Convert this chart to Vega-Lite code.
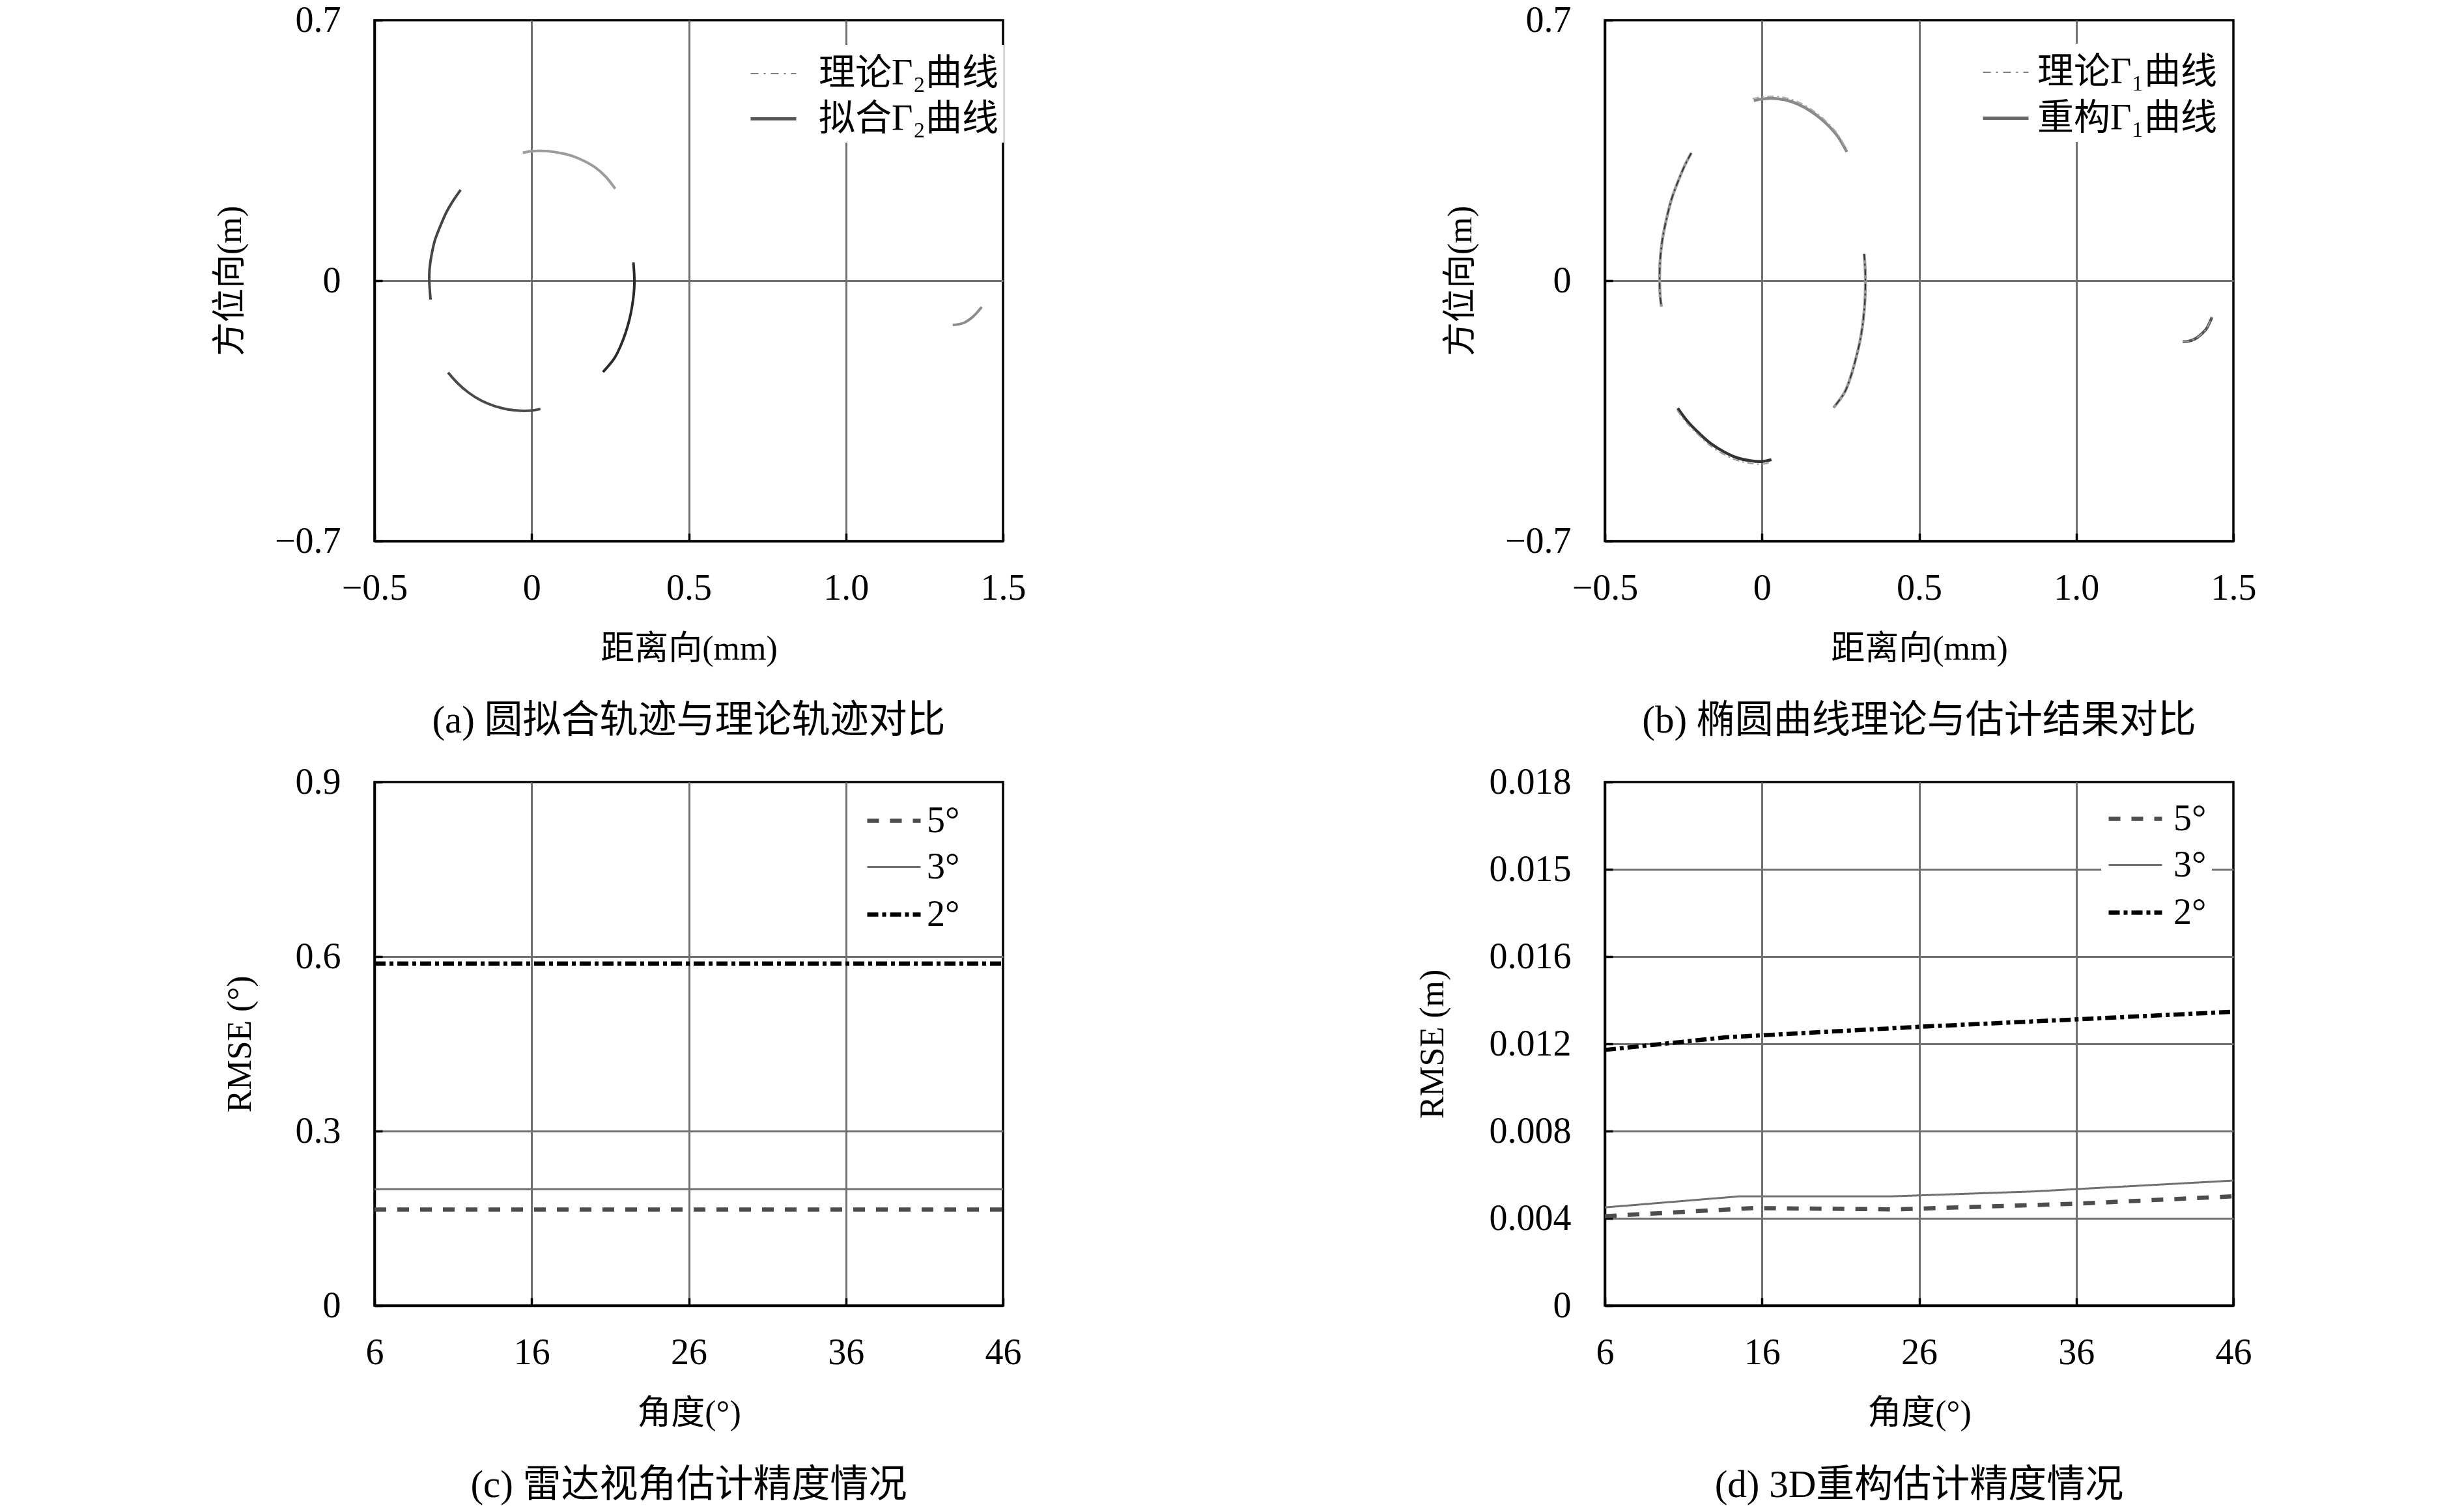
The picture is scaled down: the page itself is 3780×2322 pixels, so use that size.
{
  "$schema": "https://vega.github.io/schema/vega-lite/v6.json",
  "autosize": "none",
  "padding": {"left": 575, "top": 31, "right": 3205, "bottom": 2291},
  "background": "white",
  "bounds": "flush",
  "columns": 2,
  "spacing": {"row": 370, "column": 924},
  "resolve": {
    "scale": {"color": "independent", "strokeDash": "independent", "strokeWidth": "independent", "stroke": "independent", "x": "independent", "y": "independent"},
    "legend": {"color": "independent", "strokeDash": "independent", "strokeWidth": "independent", "stroke": "independent"}
  },
  "concat": [
    {
      "width": 965, "height": 800,
      "title": {"text": "(a) 圆拟合轨迹与理论轨迹对比", "orient": "bottom", "frame": "group", "anchor": "middle", "offset": 56},
      "encoding": {
        "x": {"field": "x", "type": "quantitative", "scale": {"domain": [-0.5, 1.5], "nice": false, "zero": false},
          "axis": {"values": [-0.5, 0, 0.5, 1, 1.5], "title": "距离向(mm)", "labelExpr": "datum.value == 0 ? '0' : format(datum.value, '.1f')",
            "gridOpacity": {"condition": {"test": "datum.value <= -0.49 || datum.value >= 1.49", "value": 0}, "value": 1}}},
        "y": {"field": "y", "type": "quantitative", "scale": {"domain": [-0.7, 0.7], "nice": false, "zero": false},
          "axis": {"values": [-0.7, 0, 0.7], "title": "方位向(m)", "titlePadding": 41, "labelExpr": "datum.value == 0 ? '0' : format(datum.value, '.1f')",
            "gridOpacity": {"condition": {"test": "abs(datum.value) >= 0.69", "value": 0}, "value": 1}}}
      },
      "layer": [
        {
          "data": {"values": [{"series": "理论Γ₂曲线", "x": null, "y": null}, {"series": "拟合Γ₂曲线", "x": null, "y": null}]},
          "mark": {"type": "line"},
          "encoding": {
            "color": {"field": "series", "type": "nominal", "scale": {"domain": ["理论Γ₂曲线", "拟合Γ₂曲线"], "range": ["#808080", "#555555"]},
              "legend": {"title": null, "orient": "none", "legendX": 567, "legendY": 38, "symbolSize": 4900, "labelOffset": 32, "rowPadding": 4, "symbolType": "stroke", "fillColor": "white", "padding": 8}},
            "strokeDash": {"field": "series", "type": "nominal", "scale": {"domain": ["理论Γ₂曲线", "拟合Γ₂曲线"], "range": [[12, 8, 3, 8], [1, 0]]},
              "legend": {"title": null, "orient": "none", "legendX": 567, "legendY": 38, "symbolSize": 4900, "labelOffset": 32, "rowPadding": 4, "symbolType": "stroke", "fillColor": "white", "padding": 8}},
            "strokeWidth": {"field": "series", "type": "nominal", "scale": {"type": "ordinal", "domain": ["理论Γ₂曲线", "拟合Γ₂曲线"], "range": [2, 5]},
              "legend": {"title": null, "orient": "none", "legendX": 567, "legendY": 38, "symbolSize": 4900, "labelOffset": 32, "rowPadding": 4, "symbolType": "stroke", "fillColor": "white", "padding": 8}}
          }
        },
        {
          "data": {"values": [
            {"arc": "top", "x": -0.028, "y": 0.344}, {"arc": "top", "x": 0, "y": 0.348}, {"arc": "top", "x": 0.028, "y": 0.3485}, {"arc": "top", "x": 0.062, "y": 0.347}, {"arc": "top", "x": 0.097, "y": 0.342}, {"arc": "top", "x": 0.131, "y": 0.3345}, {"arc": "top", "x": 0.166, "y": 0.322}, {"arc": "top", "x": 0.201, "y": 0.305}, {"arc": "top", "x": 0.235, "y": 0.28}, {"arc": "top", "x": 0.266, "y": 0.247},
            {"arc": "small", "x": 1.34, "y": -0.119}, {"arc": "small", "x": 1.358, "y": -0.1175}, {"arc": "small", "x": 1.379, "y": -0.112}, {"arc": "small", "x": 1.4, "y": -0.1}, {"arc": "small", "x": 1.417, "y": -0.086}, {"arc": "small", "x": 1.432, "y": -0.071},
            {"arc": "left", "x": -0.226, "y": 0.244}, {"arc": "left", "x": -0.249, "y": 0.216}, {"arc": "left", "x": -0.27, "y": 0.186}, {"arc": "left", "x": -0.29, "y": 0.148}, {"arc": "left", "x": -0.308, "y": 0.108}, {"arc": "left", "x": -0.3195, "y": 0.064}, {"arc": "left", "x": -0.325, "y": 0.029}, {"arc": "left", "x": -0.3257, "y": 0}, {"arc": "left", "x": -0.3237, "y": -0.029}, {"arc": "left", "x": -0.3216, "y": -0.051},
            {"arc": "right", "x": 0.3237, "y": 0.049}, {"arc": "right", "x": 0.3264, "y": 0.0175}, {"arc": "right", "x": 0.327, "y": -0.006}, {"arc": "right", "x": 0.325, "y": -0.035}, {"arc": "right", "x": 0.3195, "y": -0.07}, {"arc": "right", "x": 0.311, "y": -0.105}, {"arc": "right", "x": 0.299, "y": -0.14}, {"arc": "right", "x": 0.2835, "y": -0.1745}, {"arc": "right", "x": 0.263, "y": -0.209}, {"arc": "right", "x": 0.227, "y": -0.2455},
            {"arc": "bottom", "x": -0.266, "y": -0.247}, {"arc": "bottom", "x": -0.235, "y": -0.276}, {"arc": "bottom", "x": -0.2006, "y": -0.301}, {"arc": "bottom", "x": -0.159, "y": -0.323}, {"arc": "bottom", "x": -0.118, "y": -0.337}, {"arc": "bottom", "x": -0.076, "y": -0.346}, {"arc": "bottom", "x": -0.035, "y": -0.3496}, {"arc": "bottom", "x": 0, "y": -0.349}, {"arc": "bottom", "x": 0.028, "y": -0.345}
          ]},
          "mark": {"type": "line", "interpolate": "catmull-rom", "strokeWidth": 4, "strokeCap": "butt"},
          "encoding": {
            "detail": {"field": "arc", "type": "nominal"},
            "order": {"value": null},
            "stroke": {"field": "arc", "type": "nominal", "scale": {"domain": ["top", "small", "left", "right", "bottom"], "range": ["#9c9c9c", "#8c8c8c", "#454545", "#2b2b2b", "#4a4a4a"]}, "legend": null}
          }
        }
      ]
    },
    {
      "width": 965, "height": 800,
      "title": {"text": "(b) 椭圆曲线理论与估计结果对比", "orient": "bottom", "frame": "group", "anchor": "middle", "offset": 56},
      "encoding": {
        "x": {"field": "x", "type": "quantitative", "scale": {"domain": [-0.5, 1.5], "nice": false, "zero": false},
          "axis": {"values": [-0.5, 0, 0.5, 1, 1.5], "title": "距离向(mm)", "labelExpr": "datum.value == 0 ? '0' : format(datum.value, '.1f')",
            "gridOpacity": {"condition": {"test": "datum.value <= -0.49 || datum.value >= 1.49", "value": 0}, "value": 1}}},
        "y": {"field": "y", "type": "quantitative", "scale": {"domain": [-0.7, 0.7], "nice": false, "zero": false},
          "axis": {"values": [-0.7, 0, 0.7], "title": "方位向(m)", "titlePadding": 41, "labelExpr": "datum.value == 0 ? '0' : format(datum.value, '.1f')",
            "gridOpacity": {"condition": {"test": "abs(datum.value) >= 0.69", "value": 0}, "value": 1}}}
      },
      "layer": [
        {
          "data": {"values": [{"series": "理论Γ₁曲线", "x": null, "y": null}, {"series": "重构Γ₁曲线", "x": null, "y": null}]},
          "mark": {"type": "line"},
          "encoding": {
            "color": {"field": "series", "type": "nominal", "scale": {"domain": ["理论Γ₁曲线", "重构Γ₁曲线"], "range": ["#808080", "#666666"]},
              "legend": {"title": null, "orient": "none", "legendX": 570, "legendY": 36, "symbolSize": 4900, "labelOffset": 11, "rowPadding": 5, "symbolType": "stroke", "fillColor": "white", "padding": 8}},
            "strokeDash": {"field": "series", "type": "nominal", "scale": {"domain": ["理论Γ₁曲线", "重构Γ₁曲线"], "range": [[12, 8, 3, 8], [1, 0]]},
              "legend": {"title": null, "orient": "none", "legendX": 570, "legendY": 36, "symbolSize": 4900, "labelOffset": 11, "rowPadding": 5, "symbolType": "stroke", "fillColor": "white", "padding": 8}},
            "strokeWidth": {"field": "series", "type": "nominal", "scale": {"type": "ordinal", "domain": ["理论Γ₁曲线", "重构Γ₁曲线"], "range": [2, 5]},
              "legend": {"title": null, "orient": "none", "legendX": 570, "legendY": 36, "symbolSize": 4900, "labelOffset": 11, "rowPadding": 5, "symbolType": "stroke", "fillColor": "white", "padding": 8}}
          }
        },
        {
          "data": {"values": [
            {"arc": "r_top", "x": -0.026, "y": 0.484}, {"arc": "r_top", "x": 0, "y": 0.488}, {"arc": "r_top", "x": 0.031, "y": 0.49}, {"arc": "r_top", "x": 0.073, "y": 0.486}, {"arc": "r_top", "x": 0.114, "y": 0.4745}, {"arc": "r_top", "x": 0.156, "y": 0.455}, {"arc": "r_top", "x": 0.197, "y": 0.428}, {"arc": "r_top", "x": 0.239, "y": 0.39}, {"arc": "r_top", "x": 0.27, "y": 0.346},
            {"arc": "r_left", "x": -0.225, "y": 0.343}, {"arc": "r_left", "x": -0.2455, "y": 0.31}, {"arc": "r_left", "x": -0.266, "y": 0.269}, {"arc": "r_left", "x": -0.287, "y": 0.221}, {"arc": "r_left", "x": -0.304, "y": 0.1655}, {"arc": "r_left", "x": -0.317, "y": 0.11}, {"arc": "r_left", "x": -0.324, "y": 0.055}, {"arc": "r_left", "x": -0.3257, "y": 0}, {"arc": "r_left", "x": -0.324, "y": -0.041}, {"arc": "r_left", "x": -0.32, "y": -0.07},
            {"arc": "r_right", "x": 0.325, "y": 0.072}, {"arc": "r_right", "x": 0.3285, "y": 0.028}, {"arc": "r_right", "x": 0.329, "y": -0.014}, {"arc": "r_right", "x": 0.327, "y": -0.062}, {"arc": "r_right", "x": 0.3216, "y": -0.11}, {"arc": "r_right", "x": 0.3126, "y": -0.159}, {"arc": "r_right", "x": 0.2994, "y": -0.207}, {"arc": "r_right", "x": 0.2835, "y": -0.255}, {"arc": "r_right", "x": 0.263, "y": -0.3}, {"arc": "r_right", "x": 0.228, "y": -0.341},
            {"arc": "r_bottom", "x": -0.268, "y": -0.343}, {"arc": "r_bottom", "x": -0.239, "y": -0.376}, {"arc": "r_bottom", "x": -0.204, "y": -0.407}, {"arc": "r_bottom", "x": -0.1625, "y": -0.438}, {"arc": "r_bottom", "x": -0.121, "y": -0.46}, {"arc": "r_bottom", "x": -0.0795, "y": -0.476}, {"arc": "r_bottom", "x": -0.038, "y": -0.484}, {"arc": "r_bottom", "x": 0, "y": -0.486}, {"arc": "r_bottom", "x": 0.03, "y": -0.481},
            {"arc": "r_small", "x": 1.339, "y": -0.164}, {"arc": "r_small", "x": 1.356, "y": -0.163}, {"arc": "r_small", "x": 1.377, "y": -0.157}, {"arc": "r_small", "x": 1.398, "y": -0.144}, {"arc": "r_small", "x": 1.415, "y": -0.128}, {"arc": "r_small", "x": 1.432, "y": -0.098}
          ]},
          "mark": {"type": "line", "interpolate": "catmull-rom", "strokeWidth": 4.5, "strokeCap": "butt"},
          "encoding": {
            "detail": {"field": "arc", "type": "nominal"},
            "order": {"value": null},
            "stroke": {"field": "arc", "type": "nominal", "scale": {"domain": ["r_top", "r_left", "r_right", "r_bottom", "r_small", "t_top", "t_left", "t_right", "t_bottom", "t_small"], "range": ["#8a8a8a", "#9a9a9a", "#9a9a9a", "#333333", "#555555", "#aaaaaa", "#333333", "#333333", "#9a9a9a", "#999999"]}, "legend": null}
          }
        },
        {
          "data": {"values": [
            {"arc": "t_top", "x": -0.03, "y": 0.489}, {"arc": "t_top", "x": 0, "y": 0.494}, {"arc": "t_top", "x": 0.031, "y": 0.4955}, {"arc": "t_top", "x": 0.073, "y": 0.492}, {"arc": "t_top", "x": 0.114, "y": 0.481}, {"arc": "t_top", "x": 0.156, "y": 0.461}, {"arc": "t_top", "x": 0.197, "y": 0.434}, {"arc": "t_top", "x": 0.239, "y": 0.396}, {"arc": "t_top", "x": 0.27, "y": 0.352},
            {"arc": "t_left", "x": -0.225, "y": 0.343}, {"arc": "t_left", "x": -0.2455, "y": 0.31}, {"arc": "t_left", "x": -0.266, "y": 0.269}, {"arc": "t_left", "x": -0.287, "y": 0.221}, {"arc": "t_left", "x": -0.304, "y": 0.1655}, {"arc": "t_left", "x": -0.317, "y": 0.11}, {"arc": "t_left", "x": -0.324, "y": 0.055}, {"arc": "t_left", "x": -0.3257, "y": 0}, {"arc": "t_left", "x": -0.324, "y": -0.041}, {"arc": "t_left", "x": -0.32, "y": -0.07},
            {"arc": "t_right", "x": 0.325, "y": 0.072}, {"arc": "t_right", "x": 0.3285, "y": 0.028}, {"arc": "t_right", "x": 0.329, "y": -0.014}, {"arc": "t_right", "x": 0.327, "y": -0.062}, {"arc": "t_right", "x": 0.3216, "y": -0.11}, {"arc": "t_right", "x": 0.3126, "y": -0.159}, {"arc": "t_right", "x": 0.2994, "y": -0.207}, {"arc": "t_right", "x": 0.2835, "y": -0.255}, {"arc": "t_right", "x": 0.263, "y": -0.3}, {"arc": "t_right", "x": 0.228, "y": -0.341},
            {"arc": "t_bottom", "x": -0.27, "y": -0.348}, {"arc": "t_bottom", "x": -0.24, "y": -0.382}, {"arc": "t_bottom", "x": -0.204, "y": -0.413}, {"arc": "t_bottom", "x": -0.1625, "y": -0.445}, {"arc": "t_bottom", "x": -0.121, "y": -0.467}, {"arc": "t_bottom", "x": -0.0795, "y": -0.483}, {"arc": "t_bottom", "x": -0.038, "y": -0.491}, {"arc": "t_bottom", "x": 0, "y": -0.493}, {"arc": "t_bottom", "x": 0.03, "y": -0.488},
            {"arc": "t_small", "x": 1.339, "y": -0.164}, {"arc": "t_small", "x": 1.356, "y": -0.163}, {"arc": "t_small", "x": 1.377, "y": -0.157}, {"arc": "t_small", "x": 1.398, "y": -0.144}, {"arc": "t_small", "x": 1.415, "y": -0.128}, {"arc": "t_small", "x": 1.432, "y": -0.098}
          ]},
          "mark": {"type": "line", "interpolate": "catmull-rom", "strokeWidth": 2, "strokeDash": [10, 5, 3, 5], "strokeCap": "butt"},
          "encoding": {
            "detail": {"field": "arc", "type": "nominal"},
            "order": {"value": null},
            "stroke": {"field": "arc", "type": "nominal", "legend": null}
          }
        }
      ]
    },
    {
      "width": 965, "height": 804,
      "title": {"text": "(c) 雷达视角估计精度情况", "orient": "bottom", "frame": "group", "anchor": "middle", "offset": 56},
      "data": {"values": [
        {"series": "5°", "angle": 6, "rmse": 0.165}, {"series": "5°", "angle": 16, "rmse": 0.165}, {"series": "5°", "angle": 26, "rmse": 0.165}, {"series": "5°", "angle": 36, "rmse": 0.165}, {"series": "5°", "angle": 46, "rmse": 0.165},
        {"series": "3°", "angle": 6, "rmse": 0.2}, {"series": "3°", "angle": 16, "rmse": 0.2}, {"series": "3°", "angle": 26, "rmse": 0.2}, {"series": "3°", "angle": 36, "rmse": 0.2}, {"series": "3°", "angle": 46, "rmse": 0.2},
        {"series": "2°", "angle": 6, "rmse": 0.588}, {"series": "2°", "angle": 16, "rmse": 0.588}, {"series": "2°", "angle": 26, "rmse": 0.588}, {"series": "2°", "angle": 36, "rmse": 0.588}, {"series": "2°", "angle": 46, "rmse": 0.588}
      ]},
      "mark": {"type": "line", "strokeCap": "butt"},
      "encoding": {
        "x": {"field": "angle", "type": "quantitative", "scale": {"domain": [6, 46], "nice": false, "zero": false},
          "axis": {"values": [6, 16, 26, 36, 46], "title": "角度(°)", "format": "d",
            "gridOpacity": {"condition": {"test": "datum.value <= 6 || datum.value >= 46", "value": 0}, "value": 1}}},
        "y": {"field": "rmse", "type": "quantitative", "scale": {"domain": [0, 0.9], "nice": false, "zero": false},
          "axis": {"values": [0, 0.3, 0.6, 0.9], "title": "RMSE (°)", "titlePadding": 58, "labelExpr": "datum.value == 0 ? '0' : format(datum.value, '.1f')",
            "gridOpacity": {"condition": {"test": "datum.value <= 0.001 || datum.value >= 0.899", "value": 0}, "value": 1}}},
        "color": {"field": "series", "type": "nominal", "scale": {"domain": ["5°", "3°", "2°"], "range": ["#4d4d4d", "#707070", "#000000"]},
          "legend": {"title": null, "orient": "none", "legendX": 745, "legendY": 7, "symbolSize": 6724, "labelOffset": 6, "rowPadding": -14, "symbolType": "stroke", "fillColor": "white", "padding": 8}},
        "strokeDash": {"field": "series", "type": "nominal", "scale": {"domain": ["5°", "3°", "2°"], "range": [[18, 17], [1, 0], [17, 6, 6, 6]]},
          "legend": {"title": null, "orient": "none", "legendX": 745, "legendY": 7, "symbolSize": 6724, "labelOffset": 6, "rowPadding": -14, "symbolType": "stroke", "fillColor": "white", "padding": 8}},
        "strokeWidth": {"field": "series", "type": "nominal", "scale": {"type": "ordinal", "domain": ["5°", "3°", "2°"], "range": [6.5, 3, 6.5]},
          "legend": {"title": null, "orient": "none", "legendX": 745, "legendY": 7, "symbolSize": 6724, "labelOffset": 6, "rowPadding": -14, "symbolType": "stroke", "fillColor": "white", "padding": 8}}
      }
    },
    {
      "width": 965, "height": 804,
      "title": {"text": "(d) 3D重构估计精度情况", "orient": "bottom", "frame": "group", "anchor": "middle", "offset": 56},
      "data": {"values": [
        {"series": "5°", "angle": 6, "rmse": 0.0041}, {"series": "5°", "angle": 15.5, "rmse": 0.00447}, {"series": "5°", "angle": 24.5, "rmse": 0.00441}, {"series": "5°", "angle": 36, "rmse": 0.00467}, {"series": "5°", "angle": 46, "rmse": 0.00501},
        {"series": "3°", "angle": 6, "rmse": 0.0045}, {"series": "3°", "angle": 14.6, "rmse": 0.00501}, {"series": "3°", "angle": 24.3, "rmse": 0.00501}, {"series": "3°", "angle": 33.2, "rmse": 0.00523}, {"series": "3°", "angle": 46, "rmse": 0.00573},
        {"series": "2°", "angle": 6, "rmse": 0.01172}, {"series": "2°", "angle": 13.7, "rmse": 0.0123}, {"series": "2°", "angle": 26, "rmse": 0.01278}, {"series": "2°", "angle": 36, "rmse": 0.01312}, {"series": "2°", "angle": 46, "rmse": 0.01347}
      ]},
      "mark": {"type": "line", "strokeCap": "butt"},
      "encoding": {
        "x": {"field": "angle", "type": "quantitative", "scale": {"domain": [6, 46], "nice": false, "zero": false},
          "axis": {"values": [6, 16, 26, 36, 46], "title": "角度(°)", "format": "d",
            "gridOpacity": {"condition": {"test": "datum.value <= 6 || datum.value >= 46", "value": 0}, "value": 1}}},
        "y": {"field": "rmse", "type": "quantitative", "scale": {"domain": [0, 0.024], "nice": false, "zero": false},
          "axis": {"values": [0, 0.004, 0.008, 0.012, 0.016, 0.02, 0.024], "title": "RMSE (m)", "titlePadding": 60,
            "labelExpr": "datum.value < 0.001 ? '0' : datum.value > 0.022 ? '0.018' : datum.value > 0.018 ? '0.015' : format(datum.value, '.3f')",
            "gridOpacity": {"condition": {"test": "datum.value <= 0.0001 || datum.value >= 0.0239", "value": 0}, "value": 1}}},
        "color": {"field": "series", "type": "nominal", "scale": {"domain": ["5°", "3°", "2°"], "range": ["#4d4d4d", "#707070", "#000000"]},
          "legend": {"title": null, "orient": "none", "legendX": 762, "legendY": 4, "symbolSize": 6724, "labelOffset": 14, "rowPadding": -14, "symbolType": "stroke", "fillColor": "white", "padding": 8}},
        "strokeDash": {"field": "series", "type": "nominal", "scale": {"domain": ["5°", "3°", "2°"], "range": [[18, 17], [1, 0], [17, 6, 6, 6]]},
          "legend": {"title": null, "orient": "none", "legendX": 762, "legendY": 4, "symbolSize": 6724, "labelOffset": 14, "rowPadding": -14, "symbolType": "stroke", "fillColor": "white", "padding": 8}},
        "strokeWidth": {"field": "series", "type": "nominal", "scale": {"type": "ordinal", "domain": ["5°", "3°", "2°"], "range": [6.5, 3, 6.5]},
          "legend": {"title": null, "orient": "none", "legendX": 762, "legendY": 4, "symbolSize": 6724, "labelOffset": 14, "rowPadding": -14, "symbolType": "stroke", "fillColor": "white", "padding": 8}}
      }
    }
  ],
  "config": {
    "font": "Liberation Serif, DejaVu Serif, Noto Sans CJK SC",
    "view": {"stroke": "#000000", "strokeWidth": 3.5},
    "axis": {
      "labelFont": "Liberation Serif, DejaVu Serif, Noto Sans CJK SC", "labelFontSize": 56, "labelColor": "#000000",
      "titleFont": "Liberation Serif, DejaVu Serif, Noto Sans CJK SC", "titleFontSize": 52, "titleFontWeight": "normal", "titleColor": "#000000",
      "domainColor": "#000000", "domainWidth": 3.5,
      "ticks": true, "tickColor": "#000000", "tickWidth": 3.5, "tickSize": -12,
      "grid": true, "gridColor": "#707070", "gridWidth": 3,
      "labelOverlap": false, "labelFlush": false
    },
    "axisX": {"labelPadding": 57, "titlePadding": 40},
    "axisY": {"labelPadding": 64, "titlePadding": 41},
    "legend": {"labelFont": "Liberation Serif, DejaVu Serif, Noto Sans CJK SC", "labelFontSize": 56, "labelColor": "#000000", "labelLimit": 2000},
    "title": {"font": "Liberation Serif, DejaVu Serif, Noto Sans CJK SC", "fontSize": 59, "fontWeight": "normal", "color": "#000000"}
  }
}
